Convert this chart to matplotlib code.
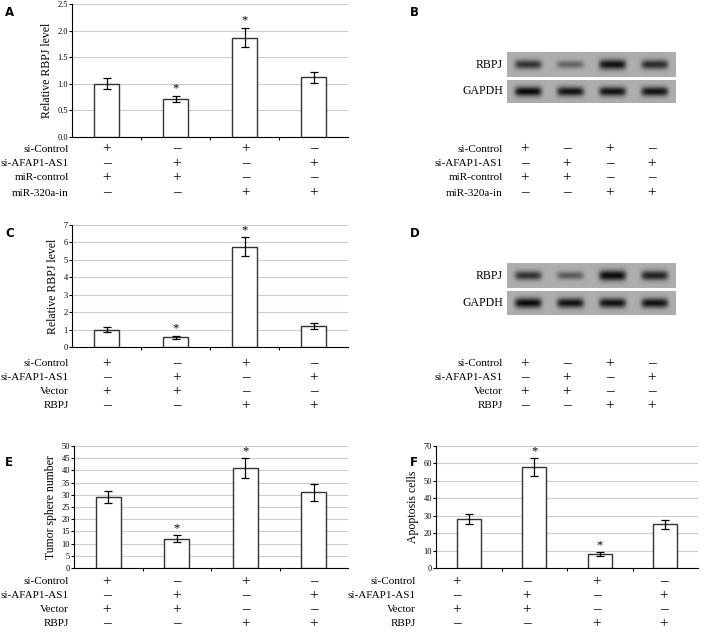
import numpy as np
import matplotlib
matplotlib.use("Agg")
import matplotlib.pyplot as plt

W, H = 709, 638
serif = "Liberation Serif"

# ---- data ----
A_vals = [1.0, 0.72, 1.87, 1.12]; A_err = [0.10, 0.06, 0.18, 0.11]; A_sig = [0, 1, 1, 0]
C_vals = [1.0, 0.55, 5.75, 1.2];  C_err = [0.15, 0.08, 0.55, 0.15]; C_sig = [0, 1, 1, 0]
E_vals = [29, 12, 41, 31];        E_err = [2.5, 1.5, 4.0, 3.5];     E_sig = [0, 1, 1, 0]
F_vals = [28, 58, 8, 25];         F_err = [3.0, 5.0, 1.0, 2.5];     F_sig = [0, 1, 1, 0]
rows_AB = ["si-Control", "si-AFAP1-AS1", "miR-control", "miR-320a-in"]
rows_CF = ["si-Control", "si-AFAP1-AS1", "Vector", "RBPJ"]
signs = [["+", "\u2013", "+", "\u2013"],
         ["\u2013", "+", "\u2013", "+"],
         ["+", "+", "\u2013", "\u2013"],
         ["\u2013", "\u2013", "+", "+"]]
B_rbpj = [0.75, 0.45, 0.95, 0.8]; B_gapdh = [1.0, 0.95, 0.95, 0.95]
D_rbpj = [0.75, 0.5, 1.0, 0.85];  D_gapdh = [1.0, 0.95, 0.95, 0.95]

fig = plt.figure(figsize=(W/100, H/100), dpi=100)

def ax_px(x0, y0, x1, y1):
    return fig.add_axes([x0/W, 1-y1/H, (x1-x0)/W, (y1-y0)/H])

def ftext(x, y, s, **kw):
    fig.text(x/W, 1-y/H, s, **kw)

def bar_panel(box, vals, err, sig, ymax, step, ylabel, fmt):
    ax = ax_px(*box)
    x = np.arange(4)
    ax.bar(x, vals, width=0.36, color="white", edgecolor="#333333", linewidth=1.0, zorder=3)
    ax.errorbar(x, vals, yerr=err, fmt="none", ecolor="black", capsize=3, elinewidth=0.9, capthick=0.9, zorder=4)
    for i in range(4):
        if sig[i]:
            ax.text(i, vals[i]+err[i]+ymax*0.01, "*", ha="center", va="bottom", fontsize=9, fontfamily=serif)
    ax.set_xlim(-0.5, 3.5); ax.set_ylim(0, ymax)
    ticks = np.arange(0, ymax+step/2, step)
    ax.set_yticks(ticks)
    ax.set_yticklabels([fmt.format(v) for v in ticks], fontfamily=serif, fontsize=6)
    ax.set_xticks([0.5, 1.5, 2.5]); ax.set_xticklabels([])
    ax.tick_params(axis="x", length=2, direction="out")
    ax.tick_params(axis="y", length=2, pad=1)
    ax.yaxis.grid(True, color="#cccccc", linewidth=0.8, zorder=0)
    ax.set_axisbelow(True)
    for s in ["top", "right"]:
        ax.spines[s].set_visible(False)
    ax.set_ylabel(ylabel, fontfamily=serif, fontsize=8.5, labelpad=3)
    return ax

def sign_rows(labels, xl, xs, ys):
    for r, lab in enumerate(labels):
        ftext(xl, ys[r], lab, ha="right", va="center", fontfamily=serif, fontsize=8)
        for c in range(4):
            ftext(xs[c], ys[r], signs[r][c], ha="center", va="center", fontfamily=serif, fontsize=11)

def blot(box, intens, label, lanes=4):
    ax = ax_px(*box)
    nx, ny = 400, 60
    xx = np.linspace(0, lanes, nx); yy = np.linspace(-1, 1, ny)
    X, Y = np.meshgrid(xx, yy)
    img = np.zeros_like(X)
    for i, v in enumerate(intens):
        cx = i + 0.5
        img += v * np.exp(-((X-cx)/0.32)**6) * np.exp(-(Y/(0.22+0.2*v))**2)
    img = np.clip(img, 0, 1)
    col = 0.68 - 0.64*img
    ax.imshow(col, cmap="gray", vmin=0, vmax=1, aspect="auto", interpolation="bilinear")
    ax.set_xticks([]); ax.set_yticks([])
    for s in ax.spines.values():
        s.set_visible(False)
    ftext(box[0]-4, (box[1]+box[3])/2, label, ha="right", va="center", fontfamily=serif, fontsize=8.5)

def letter(x, y, s):
    ftext(x, y, s, ha="left", va="center", fontweight="bold", fontsize=8.5, fontfamily="DejaVu Sans")

colsL = [107, 177, 246, 314]
colsR = [525, 567, 610, 652]
colsF = [457, 527, 597, 664]

# A
bar_panel((72, 4, 348, 137), A_vals, A_err, A_sig, 2.5, 0.5, "Relative RBPJ level", "{:.1f}")
sign_rows(rows_AB, 69, colsL, [149, 164, 178, 193])
letter(5, 13, "A")
# B
blot((507, 52, 676, 77), B_rbpj, "RBPJ")
blot((507, 80, 676, 103), B_gapdh, "GAPDH")
sign_rows(rows_AB, 503, colsR, [149, 164, 178, 193])
letter(410, 13, "B")
# C
bar_panel((72, 225, 348, 347), C_vals, C_err, C_sig, 7, 1, "Relative RBPJ level", "{:.0f}")
sign_rows(rows_CF, 69, colsL, [364, 378, 392, 406])
letter(5, 233, "C")
# D
blot((507, 263, 676, 288), D_rbpj, "RBPJ")
blot((507, 291, 676, 315), D_gapdh, "GAPDH")
sign_rows(rows_CF, 503, colsR, [364, 378, 392, 406])
letter(410, 233, "D")
# E
bar_panel((74, 446, 348, 568), E_vals, E_err, E_sig, 50, 5, "Tumor sphere number", "{:.0f}")
sign_rows(rows_CF, 69, colsL, [582, 596, 610, 624])
letter(5, 462, "E")
# F
bar_panel((436, 446, 698, 568), F_vals, F_err, F_sig, 70, 10, "Apoptosis cells", "{:.0f}")
sign_rows(rows_CF, 416, colsF, [582, 596, 610, 624])
letter(410, 462, "F")

fig.savefig("out.png", dpi=100)
